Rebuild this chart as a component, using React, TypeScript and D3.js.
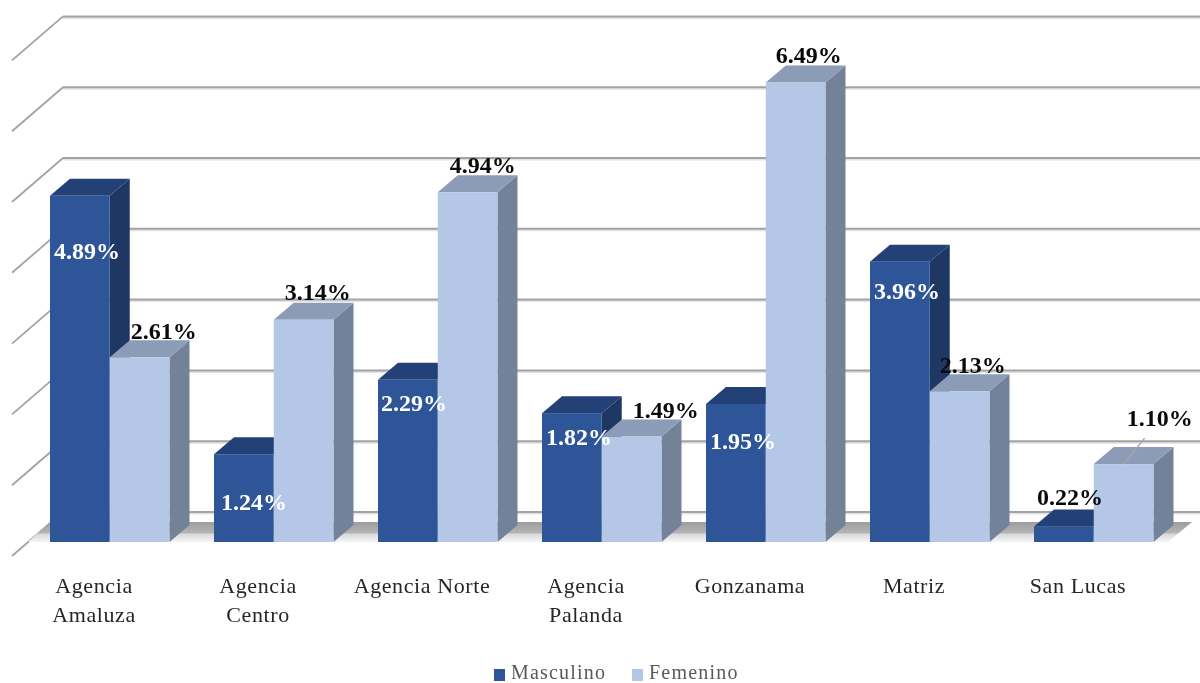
import React from "react";
import * as d3 from "d3";

const categories = ["Agencia Amaluza", "Agencia Centro", "Agencia Norte", "Agencia Palanda", "Gonzanama", "Matriz", "San Lucas"];
const categoryLines = [["Agencia", "Amaluza"], ["Agencia", "Centro"], ["Agencia Norte"], ["Agencia", "Palanda"], ["Gonzanama"], ["Matriz"], ["San Lucas"]];
const masculino = [4.89, 1.24, 2.29, 1.82, 1.95, 3.96, 0.22];
const femenino = [2.61, 3.14, 4.94, 1.49, 6.49, 2.13, 1.1];
const seriesNames = ["Masculino", "Femenino"];
const gridValues = [0, 1, 2, 3, 4, 5, 6, 7];

// Manual label placement relative to the bar's front face (centre x, top y)
const masculinoLabelOffset = [[7, 55], [10, 48], [6, 23], [7, 24], [7, 37], [7, 29], [6, -29]];
const femeninoLabelOffset = [[24, -26], [14, -28], [15, -27], [34, -27], [13, -28], [13, -26], [36, -46]];

const W = 1200, H = 683;
const FONT = "'Liberation Serif', serif";
const BASE_Y = 542, UNIT = 70.8;
const DX = 20, DY = -17;
const BACK_DY = -30; // back wall relative to bar front
const FRONT_X = 12, BACK_X = 63;

const y = d3.scaleLinear().domain([0, 7]).range([BASE_Y, BASE_Y - 7 * UNIT]);
const x0 = d3.scaleBand<string>().domain(categories).range([-2.25, -2.25 + 164 * 7]).paddingInner(0).paddingOuter(0);
const barW = 59.75;
const barX = (i: number, s: number) => (x0(categories[i]) as number) + 52.25 + s * barW;

const palette = [
  { front: "#2d5597", top: "#234077", side: "#1f3763" },
  { front: "#b4c7e7", top: "#8c9bb6", side: "#748299" },
];

function Bar({ x, v, c }: { x: number; v: number; c: (typeof palette)[number] }) {
  const t = y(v), b = y(0);
  const p = (pts: number[][]) => (d3.line()(pts as [number, number][]) as string) + "Z";
  return (
    <g>
      <path d={p([[x + barW, t], [x + barW + DX, t + DY], [x + barW + DX, b + DY], [x + barW, b]])} fill={c.side} />
      <path d={p([[x, t], [x + DX, t + DY], [x + barW + DX, t + DY], [x + barW, t]])} fill={c.top} />
      <rect x={x} y={t} width={barW} height={b - t} fill={c.front} />
    </g>
  );
}

export default function App() {
  const backY = (v: number) => y(v) + BACK_DY;
  const series = [masculino, femenino];
  const offsets = [masculinoLabelOffset, femeninoLabelOffset];
  const lbl = (i: number, s: number) => ({
    x: barX(i, s) + barW / 2 + offsets[s][i][0],
    y: y(series[s][i]) + offsets[s][i][1],
  });
  return (
    <svg width={W} height={H} style={{ position: "absolute", left: 0, top: 0, background: "#fff", filter: "blur(0.4px)" }} fontFamily={FONT}>
      <defs>
        <linearGradient id="floor" x1="0" y1="0" x2="0" y2="1">
          <stop offset="0" stopColor="#9e9e9e" />
          <stop offset="0.55" stopColor="#b4b4b4" />
          <stop offset="0.6" stopColor="#d8d8d8" />
          <stop offset="1" stopColor="#f4f4f4" />
        </linearGradient>
      </defs>
      {gridValues.map((g) => (
        <g key={g}>
          <line x1={BACK_X} x2={W} y1={backY(g) + 1.5} y2={backY(g) + 1.5} stroke="#e2e2e2" strokeWidth={2} />
          <line x1={BACK_X} x2={W} y1={backY(g)} y2={backY(g)} stroke="#a3a3a3" strokeWidth={2} />
          <line x1={BACK_X} x2={FRONT_X} y1={backY(g)} y2={backY(g) + 44} stroke="#a3a3a3" strokeWidth={1.8} />
        </g>
      ))}
      <path d={`M28,${BASE_Y} L50,${BASE_Y - 20} L1192,${BASE_Y - 20} L1168,${BASE_Y} Z`} fill="url(#floor)" />
      {categories.map((_, i) => (
        <g key={i}>
          <Bar x={barX(i, 0)} v={masculino[i]} c={palette[0]} />
          <Bar x={barX(i, 1)} v={femenino[i]} c={palette[1]} />
        </g>
      ))}
      <line x1={barX(6, 1) + barW / 2} y1={y(femenino[6])} x2={barX(6, 1) + barW / 2 + 21} y2={y(femenino[6]) - 26} stroke="#a6a6a6" strokeWidth={1.5} />
      {series.map((vals, s) =>
        vals.map((v, i) => {
          const l = lbl(i, s);
          const white = s === 0 && v > 1;
          return (
            <text key={`${s}-${i}`} x={l.x} y={l.y + 8} textAnchor="middle" fontSize={24} fontWeight={700}
              fill={white ? "#fff" : "#0a0a0a"}>
              {v.toFixed(2)}%
            </text>
          );
        })
      )}
      {categoryLines.map((lines, i) => (
        <text key={i} textAnchor="middle" fontSize={22} fill="#262626" letterSpacing={0.6}>
          {lines.map((t, k) => (
            <tspan key={k} x={barX(i, 0) + 44} y={593 + k * 29}>{t}</tspan>
          ))}
        </text>
      ))}
      {seriesNames.map((n, s) => {
        const lx = [494, 632][s];
        return (
          <g key={n}>
            <rect x={lx} y={669} width={11} height={12} fill={palette[s].front} />
            <text x={lx + 17} y={678.5} fontSize={20} fill="#595959" letterSpacing={1.2}>{n}</text>
          </g>
        );
      })}
    </svg>
  );
}
